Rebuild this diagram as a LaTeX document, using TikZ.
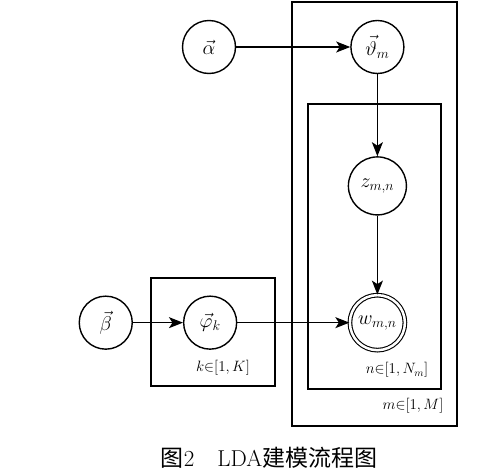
\RequirePackage{fix-cm}
\documentclass[tikz,border=0pt]{standalone}
\usepackage{amsmath}
\usepackage{fontspec}
\newfontfamily\cjk{Noto Sans CJK SC}
\usetikzlibrary{positioning,arrows.meta}

\begin{document}
\begin{tikzpicture}[x=1pt, y=-1pt,
        varnode/.style={draw, circle, line width=1.4pt, minimum size=53pt, inner sep=0pt, font=\fontsize{20}{22}\selectfont},
        obsnode/.style={varnode, double, double distance=2.5pt, line width=1.1pt, minimum size=55pt},
        arrowline/.style={-{Stealth[length=14pt, width=11pt, inset=3.5pt]}, line width=1.4pt},
        platebox/.style={draw, line width=1.4pt},
        platelabel/.style={font=\fontsize{15}{17}\selectfont}]
        \useasboundingbox (0,0) rectangle (500,471);

        % Plates
        \draw[platebox] (292,2) rectangle (457,426);
        \draw[platebox] (308,104) rectangle (441,389);
        \draw[platebox] (151,278) rectangle (275,386);

        % Nodes
        \node[varnode] (alpha) at (209,47) {$\vec{\alpha}$};
        \node[varnode, right=114pt of alpha] (theta) {$\vec{\vartheta}_m$};
        \node[varnode, minimum size=58pt, below=82pt of theta] (z) {$z_{m,n}$};
        \node[obsnode, below=79pt of z] (w) {$w_{m,n}$};
        \node[varnode, left=112pt of w] (phi) {$\vec{\varphi}_k$};
        \node[varnode, left=50pt of phi] (beta) {$\vec{\beta}$};

        % Plate labels
        \node[platelabel] (klabel) at (223,368) {$k{\in}[1,K]$};
        \node[platelabel] (nlabel) at (397,370) {$n{\in}[1,N_m]$};
        \node[platelabel] (mlabel) at (413,406) {$m{\in}[1,M]$};

        % Arrows
        \draw[arrowline] (alpha) -- (theta);
        \draw[arrowline] (theta) -- (z);
        \draw[arrowline] (z) -- (w);
        \draw[arrowline] (beta) -- (phi);
        \draw[arrowline] (phi) -- (w);

        % Caption
        \node[font=\fontsize{23}{25}\selectfont] (caption) at (269,458) {{\cjk 图}2\quad LDA{\cjk 建模流程图}};
    \end{tikzpicture}
\end{document}
